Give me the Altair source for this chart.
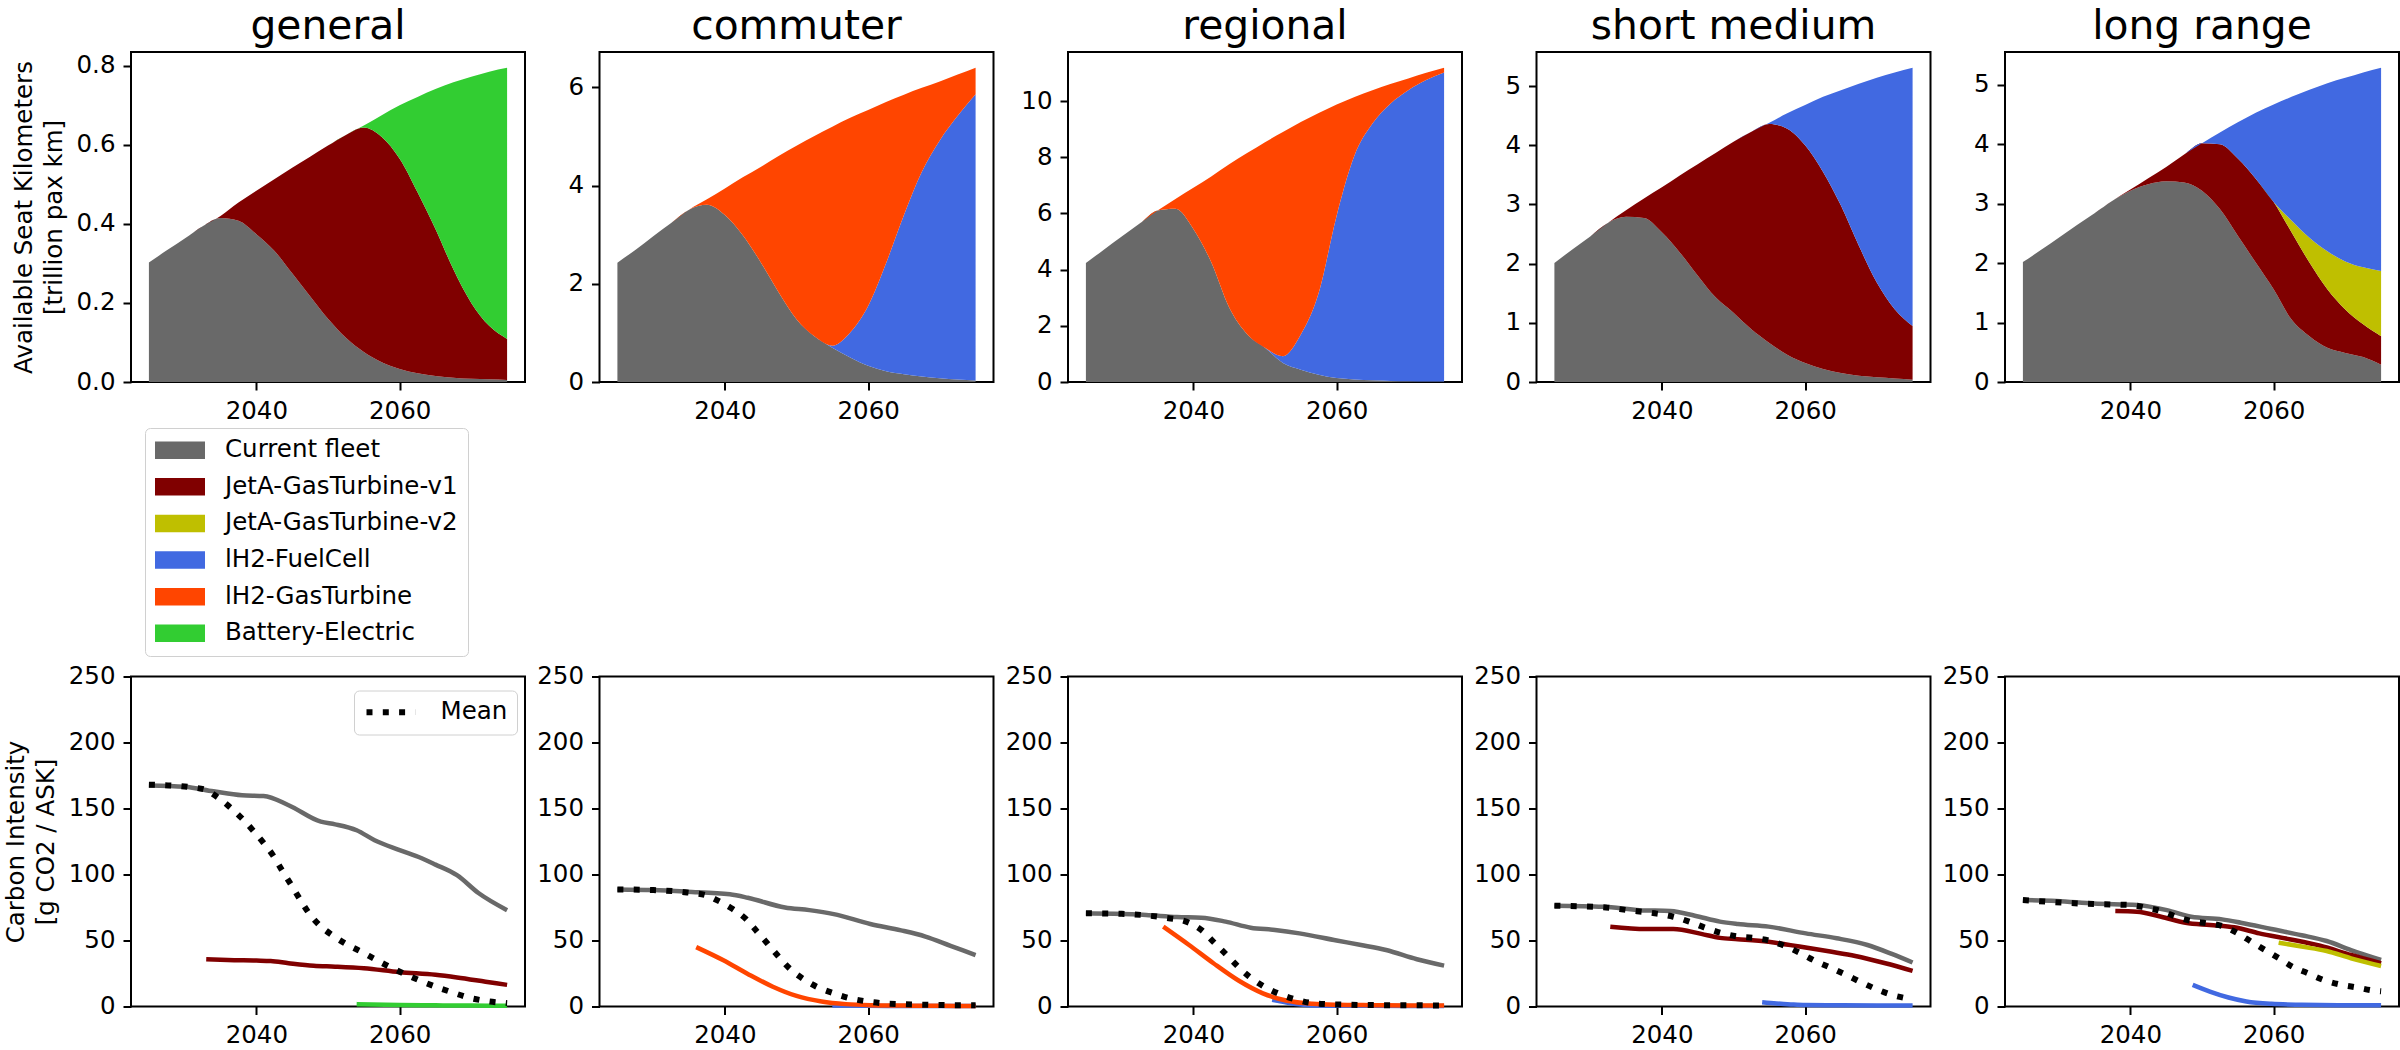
import altair as alt
import pandas as pd

FONT = "DejaVu Sans"
FS = 24.5          # tick, axis-title and legend text
TITLE_FS = 40.8    # panel titles
W, H = 394, 330    # plot area of every panel

SEGMENTS = ["general", "commuter", "regional", "short medium", "long range"]
TECHS = ["Current fleet", "JetA-GasTurbine-v1", "JetA-GasTurbine-v2",
         "lH2-FuelCell", "lH2-GasTurbine", "Battery-Electric"]
COLORS = ["#696969", "#800000", "#bfbf00", "#4169e1", "#ff4500", "#32cd32"]

YEARS = [2025, 2027.5, 2030, 2032.5, 2035, 2037.5, 2040, 2042.5, 2045, 2047.5, 2050,
         2052.5, 2055, 2057.5, 2060, 2062.5, 2065, 2067.5, 2070, 2072.5, 2075]

# Available seat kilometres by technology [trillion pax km], one value per entry of YEARS
ASK_GENERAL = {
    "Current fleet": [0.302, 0.333, 0.363, 0.394, 0.415, 0.408, 0.374, 0.332, 0.275, 0.217, 0.160,
                      0.112, 0.076, 0.050, 0.033, 0.022, 0.015, 0.011, 0.008, 0.007, 0.005],
    "JetA-GasTurbine-v1": [0, 0, 0, 0, 0.005, 0.046, 0.110, 0.181, 0.267, 0.353, 0.438,
                           0.513, 0.568, 0.570, 0.532, 0.458, 0.372, 0.274, 0.192, 0.135, 0.104],
    "Battery-Electric": [0, 0, 0, 0, 0, 0, 0, 0, 0, 0, 0,
                         0, 0.005, 0.055, 0.135, 0.241, 0.354, 0.473, 0.572, 0.643, 0.686],
}
ASK_COMMUTER = {
    "Current fleet": [2.43, 2.69, 2.97, 3.24, 3.51, 3.61, 3.40, 2.99, 2.44, 1.83, 1.28,
                      0.93, 0.70, 0.50, 0.33, 0.22, 0.16, 0.11, 0.075, 0.05, 0.03],
    "lH2-FuelCell": [0, 0, 0, 0, 0, 0, 0, 0, 0, 0, 0,
                     0, 0.04, 0.51, 1.22, 2.20, 3.24, 4.17, 4.845, 5.37, 5.83],
    "lH2-GasTurbine": [0, 0, 0, 0, 0, 0.11, 0.54, 1.18, 1.94, 2.77, 3.53,
                       4.08, 4.46, 4.37, 3.99, 3.28, 2.45, 1.71, 1.20, 0.84, 0.54],
}
ASK_REGIONAL = {
    "Current fleet": [4.24, 4.71, 5.18, 5.64, 6.11, 6.17, 5.45, 4.26, 2.65, 1.70, 1.22,
                      0.68, 0.44, 0.26, 0.14, 0.09, 0.06, 0.04, 0.03, 0.02, 0.02],
    "lH2-FuelCell": [0, 0, 0, 0, 0, 0, 0, 0, 0, 0, 0,
                     0.24, 1.25, 2.92, 5.78, 7.98, 9.14, 9.87, 10.36, 10.73, 11.0],
    "lH2-GasTurbine": [0, 0, 0, 0, 0, 0.35, 1.47, 3.06, 5.10, 6.45, 7.32,
                       7.98, 7.57, 6.40, 3.96, 2.08, 1.19, 0.70, 0.42, 0.26, 0.17],
}
ASK_SHORT_MEDIUM = {
    "Current fleet": [2.01, 2.24, 2.46, 2.69, 2.79, 2.77, 2.53, 2.19, 1.80, 1.43, 1.17,
                      0.89, 0.66, 0.46, 0.32, 0.22, 0.15, 0.105, 0.08, 0.06, 0.04],
    "JetA-GasTurbine-v1": [0, 0, 0, 0, 0.11, 0.33, 0.76, 1.30, 1.88, 2.44, 2.89,
                           3.34, 3.70, 3.82, 3.68, 3.33, 2.83, 2.195, 1.60, 1.17, 0.905],
    "lH2-FuelCell": [0, 0, 0, 0, 0, 0, 0, 0, 0, 0, 0,
                     0, 0.02, 0.26, 0.68, 1.27, 1.95, 2.74, 3.46, 4.0, 4.365],
}
ASK_LONG_RANGE = {
    "Current fleet": [2.02, 2.22, 2.43, 2.64, 2.84, 3.05, 3.22, 3.33, 3.38, 3.36, 3.22,
                      2.91, 2.46, 2.01, 1.56, 1.05, 0.77, 0.575, 0.49, 0.42, 0.29],
    "JetA-GasTurbine-v1": [0, 0, 0, 0, 0, 0, 0.02, 0.10, 0.24, 0.47, 0.80,
                           1.09, 1.30, 1.41, 1.47, 1.47, 1.24, 0.985, 0.73, 0.55, 0.48],
    "JetA-GasTurbine-v2": [0, 0, 0, 0, 0, 0, 0, 0, 0, 0, 0,
                           0, 0, 0, 0, 0.20, 0.42, 0.64, 0.81, 0.96, 1.10],
    "lH2-FuelCell": [0, 0, 0, 0, 0, 0, 0, 0, 0, 0, 0,
                     0.20, 0.61, 1.11, 1.64, 2.08, 2.49, 2.83, 3.09, 3.28, 3.42],
}
ASK = {"general": ASK_GENERAL, "commuter": ASK_COMMUTER, "regional": ASK_REGIONAL,
       "short medium": ASK_SHORT_MEDIUM, "long range": ASK_LONG_RANGE}

ASK_TICKS = {"general": [0, 0.2, 0.4, 0.6, 0.8], "commuter": [0, 2, 4, 6],
             "regional": [0, 2, 4, 6, 8, 10], "short medium": [0, 1, 2, 3, 4, 5],
             "long range": [0, 1, 2, 3, 4, 5]}
ASK_FORMAT = {"general": ".1f", "commuter": "d", "regional": "d",
              "short medium": "d", "long range": "d"}

# Carbon intensity by technology [g CO2 / ASK] as (years, values)
CI_GENERAL = {
    "Current fleet": ([2025, 2030, 2034, 2038, 2041, 2044.5, 2049, 2051, 2054, 2056.5, 2060,
                       2063, 2065, 2068, 2071, 2075],
                      [167.5, 166.5, 163, 160, 159.5, 152.5, 140, 138, 133.5, 126, 118.5,
                       112.5, 107.5, 99.5, 86, 73]),
    "JetA-GasTurbine-v1": ([2033, 2036, 2040, 2042, 2044.5, 2048, 2051, 2055, 2060, 2065,
                            2068, 2072, 2075],
                           [35.8, 35.2, 34.8, 34.5, 32.8, 30.8, 30.2, 29, 26, 24, 22, 18.8, 16.4]),
    "Battery-Electric": ([2054, 2060, 2065, 2070, 2075], [1.8, 1.2, 0.9, 0.7, 0.6]),
}
MEAN_GENERAL = ([2025, 2028, 2031, 2033, 2034.2, 2036.1, 2037.9, 2039.5, 2041, 2042.3, 2043.6,
                 2044.8, 2046, 2047.3, 2048.8, 2050.6, 2052.5, 2054.6, 2056.5, 2058.6, 2060.7,
                 2062.8, 2065.2, 2067.3, 2069.6, 2071.7, 2075],
                [168, 167.5, 166, 164, 160, 152, 143, 133.6, 124, 114.7, 103,
                 92.7, 82, 71, 61.7, 54, 47.4, 41.6, 36, 30, 24.7,
                 19.7, 14.6, 10.8, 6.8, 4.5, 2.5])

CI_COMMUTER = {
    "Current fleet": ([2025, 2030, 2034.7, 2040.7, 2043.2, 2048.4, 2051.8, 2055.2, 2060.3,
                       2064.6, 2068, 2071.5, 2075],
                      [88.7, 88.2, 87, 85, 82.4, 75, 73, 70, 62.5, 57.7, 53, 46, 39]),
    "lH2-FuelCell": ([2055, 2060, 2065, 2070, 2075], [0.8, 0.5, 0.4, 0.3, 0.3]),
    "lH2-GasTurbine": ([2036, 2039.8, 2043.2, 2046.7, 2050, 2053.5, 2056.9, 2060.3, 2065,
                        2070, 2075],
                       [45, 35, 24.7, 15, 8, 3.8, 1.8, 1.0, 0.7, 0.5, 0.4]),
}
MEAN_COMMUTER = ([2025, 2030, 2034.7, 2037.3, 2039.1, 2041.1, 2043, 2044.5, 2046, 2047.5,
                  2049.1, 2050.9, 2052.8, 2055.2, 2057.4, 2059.9, 2062, 2064.6, 2068, 2072, 2075],
                 [88.7, 88.2, 86.4, 84.4, 80, 73.8, 66, 56.7, 47.4, 37.8,
                  28.5, 21, 15, 10, 6.3, 3.8, 2.5, 1.8, 1.3, 1.0, 0.9])

CI_REGIONAL = {
    "Current fleet": ([2025, 2029, 2033.4, 2037.7, 2041.1, 2044.5, 2048, 2051.4, 2054.8,
                       2060, 2063.4, 2066.9, 2071.2, 2075],
                      [70.6, 70.2, 69.3, 67.8, 67.3, 64.3, 59.7, 58, 55.4, 50, 46.6, 42.8,
                       35.8, 31]),
    "lH2-FuelCell": ([2051, 2052.5, 2054, 2056, 2060, 2065, 2070, 2075],
                     [5, 3.5, 2, 1, 0.6, 0.5, 0.4, 0.4]),
    "lH2-GasTurbine": ([2035.8, 2039.4, 2042.8, 2046.3, 2049.7, 2053.1, 2056.6, 2060, 2065,
                        2070, 2075],
                       [60.5, 46.6, 32.8, 19.7, 10, 4.3, 2, 1.3, 1.0, 0.8, 0.7]),
}
MEAN_REGIONAL = ([2025, 2030, 2036, 2039, 2041.1, 2042.8, 2044.5, 2046.1, 2047.8, 2049.7,
                  2051.8, 2054, 2056.1, 2058.7, 2062, 2066, 2070, 2075],
                 [70.6, 70.2, 67.3, 64.3, 58, 49, 39.8, 31, 22.7, 15.6,
                  10, 5.8, 3, 1.8, 1.3, 1.0, 0.9, 0.8])

CI_SHORT_MEDIUM = {
    "Current fleet": ([2025, 2031.8, 2036.9, 2041.2, 2044.6, 2048.1, 2050.6, 2054.9, 2060.1,
                       2064.4, 2068.7, 2072.1, 2075],
                      [76.4, 75.6, 73, 72.3, 68.8, 64.3, 62.5, 60.5, 55.4, 51.7, 46.6, 39.8,
                       33.3]),
    "JetA-GasTurbine-v1": ([2032.8, 2037.8, 2041.6, 2045.5, 2048.1, 2050.6, 2054.9, 2059.2,
                            2063.5, 2067, 2071.2, 2075],
                           [60.5, 58.7, 58.7, 55, 52, 51, 49, 45.4, 41.6, 38.3, 32.8, 27]),
    "lH2-FuelCell": ([2054, 2056, 2058, 2060, 2065, 2070, 2075],
                     [3.3, 2.3, 1.6, 1.1, 0.9, 0.8, 0.8]),
}
MEAN_SHORT_MEDIUM = ([2025, 2032.2, 2035.2, 2039, 2041.6, 2043.8, 2045.9, 2048.1, 2050.6,
                      2052.8, 2054.9, 2057.1, 2059.2, 2061.4, 2063.5, 2065.7, 2067.8, 2070,
                      2072.1, 2074.5, 2075],
                     [76.4, 75, 73, 70.6, 68, 64.3, 60, 56, 53,
                      52, 50, 46, 40.8, 34.5, 29.5, 24, 18.4, 13,
                      8.8, 5.8, 5.2])

CI_LONG_RANGE = {
    "Current fleet": ([2025, 2029.7, 2034.9, 2040.9, 2045.1, 2048.5, 2052.8, 2055.4, 2059.7,
                       2063.9, 2067.4, 2070.8, 2075],
                      [80.6, 80, 78, 76.9, 73, 68, 66, 63.5, 58.7, 54, 49.6, 42.8, 35.3]),
    "JetA-GasTurbine-v1": ([2037.9, 2040.9, 2044.3, 2047.7, 2051.1, 2054.5, 2058, 2062.2,
                            2066.5, 2070.8, 2075],
                           [72.3, 71.8, 68, 63.5, 61.7, 60, 55.4, 51, 46, 39, 32.8]),
    "JetA-GasTurbine-v2": ([2060.7, 2063.9, 2067.4, 2070.8, 2075],
                           [48.4, 45.4, 42, 36.5, 30.7]),
    "lH2-FuelCell": ([2048.7, 2051.1, 2053.7, 2056.2, 2059.7, 2063.9, 2069, 2075],
                     [16.4, 11.3, 6.8, 3.8, 2, 1.3, 1.0, 1.0]),
}
MEAN_LONG_RANGE = ([2025, 2034.9, 2040, 2042.1, 2044.3, 2046.4, 2048.5, 2050.7, 2052.8, 2055,
                    2056.9, 2058.8, 2060.9, 2062.6, 2064.8, 2066.9, 2069.5, 2071.6, 2074, 2075],
                   [80.6, 77.6, 76.9, 75, 72.3, 68, 64.8, 63, 61, 55.4,
                    49, 42.8, 36, 30.2, 25.2, 20.2, 16.4, 14.4, 12, 11.5])

CI = {"general": CI_GENERAL, "commuter": CI_COMMUTER, "regional": CI_REGIONAL,
      "short medium": CI_SHORT_MEDIUM, "long range": CI_LONG_RANGE}
CI_MEAN = {"general": MEAN_GENERAL, "commuter": MEAN_COMMUTER, "regional": MEAN_REGIONAL,
           "short medium": MEAN_SHORT_MEDIUM, "long range": MEAN_LONG_RANGE}
CI_TICKS = [0, 50, 100, 150, 200, 250]

# matplotlib-style 5 % margins on the year axis
_span = YEARS[-1] - YEARS[0]
X_DOMAIN = [YEARS[0] - 0.05 * _span, YEARS[-1] + 0.05 * _span]

AXIS_STYLE = dict(labelFont=FONT, labelFontSize=FS, labelColor="black",
                  titleFont=FONT, titleFontSize=FS, titleFontWeight="normal",
                  titleColor="black", tickColor="black", tickWidth=2, tickSize=8,
                  domain=False, grid=False)

LEGEND_BOX = dict(title=None, labelFont=FONT, labelFontSize=FS, labelColor="black",
                  labelLimit=500, clipHeight=FS, strokeColor="#d0d0d0",
                  fillColor="white", cornerRadius=5)

color_scale = alt.Scale(domain=TECHS, range=COLORS)


def x_enc():
    return alt.X("year:Q", scale=alt.Scale(domain=X_DOMAIN, nice=False, zero=False),
                 axis=alt.Axis(values=[2040, 2060], format="d", title=None,
                               labelPadding=9, labelFlush=False, **AXIS_STYLE))


def ask_panel(seg, first):
    series = ASK[seg]
    rows = []
    for k, tech in enumerate(TECHS):
        if tech not in series:
            continue
        for yr, v in zip(YEARS, series[tech]):
            rows.append({"year": yr, "tech": tech, "k": k, "ask": v})
    df = pd.DataFrame(rows)
    totals = [sum(series[t][i] for t in series) for i in range(len(YEARS))]
    top = max(totals) * 1.05

    if first:
        legend = alt.Legend(orient="none", legendX=14, legendY=376,
                            symbolType="M-1,-0.35L1,-0.35L1,0.35L-1,0.35Z",
                            symbolSize=2500, symbolStrokeWidth=0, symbolOpacity=1,
                            labelOffset=20, rowPadding=10.6, padding=10,
                            values=TECHS, **LEGEND_BOX)
        ytitle = ["Available Seat Kilometers", "[trillion pax km]"]
    else:
        legend = None
        ytitle = None

    return alt.Chart(df, title=alt.TitleParams(
        seg, font=FONT, fontSize=TITLE_FS, fontWeight="normal", color="black",
        baseline="alphabetic", offset=-27.8, anchor="middle")).mark_area(
        interpolate="monotone", opacity=1
    ).encode(
        x=x_enc(),
        y=alt.Y("ask:Q", stack="zero",
                scale=alt.Scale(domain=[0, top], nice=False, zero=True),
                axis=alt.Axis(values=ASK_TICKS[seg], format=ASK_FORMAT[seg], title=ytitle,
                              labelPadding=8, titlePadding=10, titleLineHeight=29.5,
                              **AXIS_STYLE)),
        color=alt.Color("tech:N", scale=color_scale, legend=legend),
        order=alt.Order("k:Q", sort="ascending"),
    ).properties(width=W, height=H)


def ci_panel(seg, first):
    rows = []
    for tech in TECHS:
        if tech not in CI[seg]:
            continue
        yrs, vals = CI[seg][tech]
        for yr, v in zip(yrs, vals):
            rows.append({"year": yr, "tech": tech, "ci": v})
    lines_df = pd.DataFrame(rows)
    myrs, mvals = CI_MEAN[seg]
    mean_df = pd.DataFrame({"year": myrs, "ci": mvals, "label": "Mean"})

    yaxis = alt.Axis(values=CI_TICKS, format="d",
                     title=["Carbon Intensity", "[g CO2 / ASK]"] if first else None,
                     labelPadding=8, titlePadding=10, titleLineHeight=29.5, **AXIS_STYLE)
    yscale = alt.Scale(domain=[0, 250], nice=False)

    lines = alt.Chart(lines_df).mark_line(
        interpolate="monotone", strokeWidth=4.5, strokeCap="butt"
    ).encode(
        x=x_enc(),
        y=alt.Y("ci:Q", scale=yscale, axis=yaxis),
        color=alt.Color("tech:N", scale=color_scale, legend=None),
        detail="tech:N",
    )

    mean_legend = alt.Legend(orient="none", legendX=223, legendY=14,
                             symbolType="stroke", symbolSize=2401, symbolStrokeWidth=6,
                             symbolStrokeColor="black", labelOffset=22, padding=9.5,
                             **LEGEND_BOX)
    mean = alt.Chart(mean_df).mark_line(
        interpolate="monotone", strokeWidth=6, strokeCap="butt", color="black"
    ).encode(
        x=x_enc(),
        y=alt.Y("ci:Q", scale=yscale, axis=yaxis),
        strokeDash=alt.StrokeDash("label:N",
                                  scale=alt.Scale(domain=["Mean"], range=[[6, 10.3]]),
                                  legend=mean_legend if first else None),
    )
    return alt.layer(lines, mean).properties(width=W, height=H)


panels = [ask_panel(s, i == 0) for i, s in enumerate(SEGMENTS)] + \
         [ci_panel(s, i == 0) for i, s in enumerate(SEGMENTS)]

chart = alt.concat(
    *panels, columns=5, bounds="flush",
    spacing=alt.RowColnumber(row=294.5, column=74.5),
).resolve_scale(
    color="independent", strokeDash="independent"
).resolve_legend(
    color="independent", strokeDash="independent"
).properties(
    padding={"left": 2, "top": 5, "right": 0, "bottom": 0},
    background="white",
).configure_view(
    stroke="black", strokeWidth=2
)

chart.save("out.html", embed_options={"renderer": "svg", "actions": False})
